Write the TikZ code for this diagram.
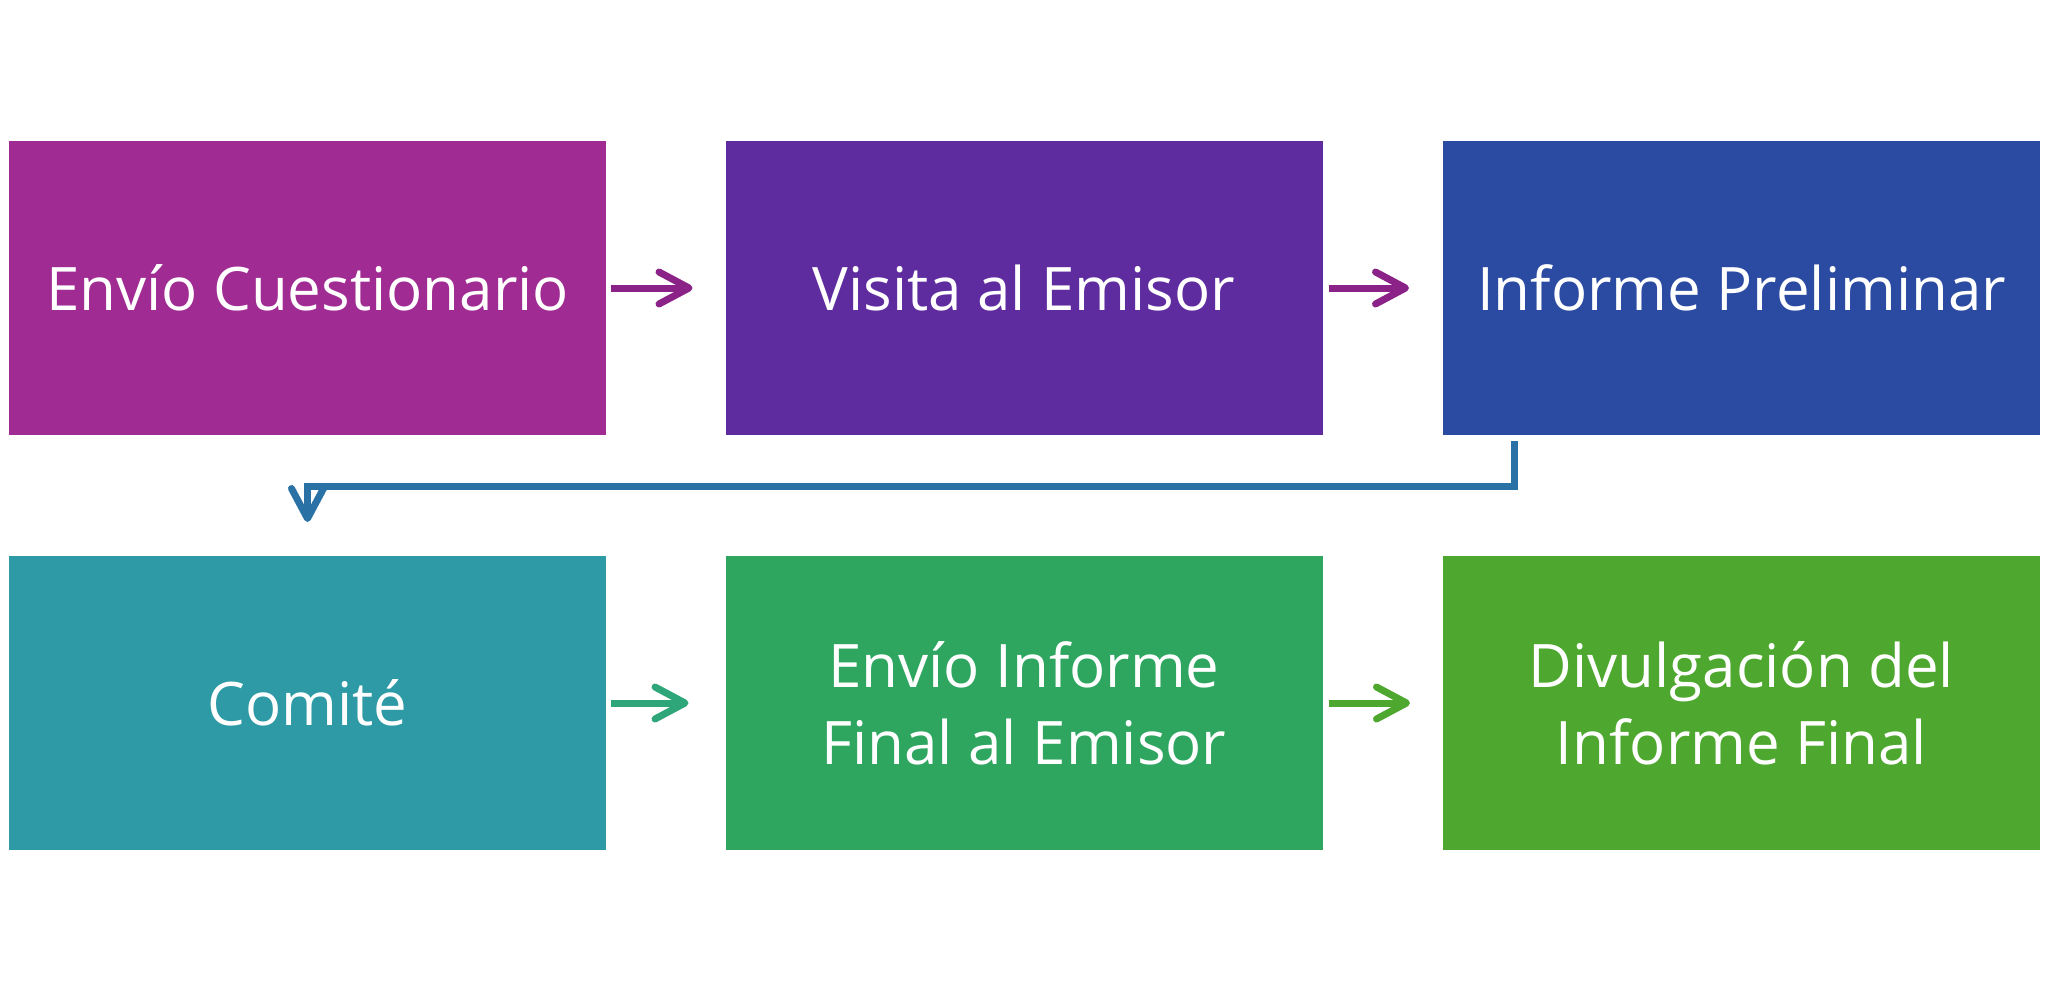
\documentclass[tikz,border=0pt]{standalone}
\usepackage{fontspec}
\setmainfont{Open Sans}
\usetikzlibrary{arrows.meta}
\definecolor{c1}{RGB}{160,43,147}
\definecolor{c2}{RGB}{95,44,160}
\definecolor{c3}{RGB}{43,75,163}
\definecolor{c4}{RGB}{46,154,165}
\definecolor{c5}{RGB}{46,166,96}
\definecolor{c6}{RGB}{78,167,46}
\definecolor{a1}{RGB}{139,34,135}
\definecolor{a2}{RGB}{42,114,165}
\definecolor{a3}{RGB}{46,166,122}
\definecolor{a4}{RGB}{78,167,46}
\tikzset{
  stepbox/.style={minimum width=597pt, minimum height=294pt, inner sep=0pt, outer sep=0pt,
    text=white, align=center, font=\fontsize{60}{77}\selectfont},
  flow/.style={line width=7pt, -{Straight Barb[length=30pt,width=32pt,round]}},
}
\begin{document}
\begin{tikzpicture}[x=1pt,y=-1pt]
\useasboundingbox (0,0) rectangle (2046,990);
\node[stepbox, fill=c1] (b1) at (307.5,288) {Envío Cuestionario};
\node[stepbox, fill=c2] (b2) at (1024,288) {Visita al Emisor};
\node[stepbox, fill=c3] (b3) at (1741.5,288) {Informe Preliminar};
\node[stepbox, fill=c4] (b4) at (307.5,703) {Comité};
\node[stepbox, fill=c5] (b5) at (1024,703) {Envío Informe\\Final al Emisor};
\node[stepbox, fill=c6] (b6) at (1741.5,703) {Divulgación del\\Informe Final};
\draw[flow, a1] ([xshift=5pt]b1.east) -- ([xshift=-33pt]b2.west);
\draw[flow, a1] ([xshift=6pt]b2.east) -- ([xshift=-34pt]b3.west);
\draw[flow, a3] ([xshift=5pt]b4.east) -- ([xshift=-37pt]b5.west);
\draw[flow, a4] ([xshift=6pt]b5.east) -- ([xshift=-33pt]b6.west);
\coordinate (e1) at ([xshift=71pt,yshift=-6pt]b3.south west);
\draw[flow, a2, line join=miter] (e1) -- ++(0,45) -| ([yshift=34pt]b4.north);
\end{tikzpicture}
\end{document}
